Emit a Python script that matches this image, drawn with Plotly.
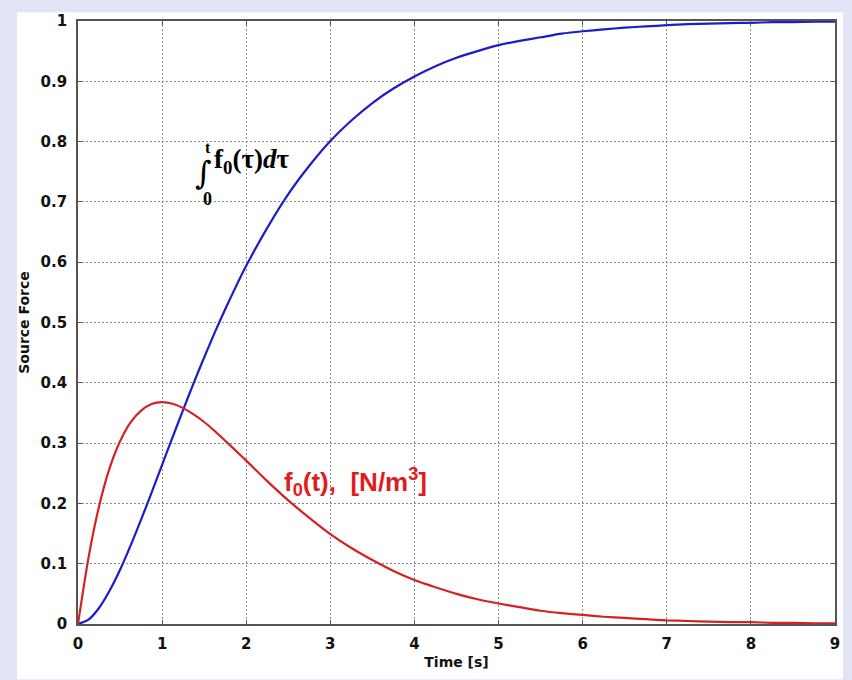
import plotly.graph_objects as go

# Time samples [s]
time_s = [0, 0.125, 0.25, 0.375, 0.5, 0.625, 0.75, 0.875, 1.0, 1.125, 1.25, 1.375,
          1.5, 1.625, 1.75, 1.875, 2.0, 2.25, 2.5, 2.75, 3.0, 3.25, 3.5, 3.75,
          4.0, 4.25, 4.5, 4.75, 5.0, 5.25, 5.5, 5.75, 6.0, 6.25, 6.5, 6.75,
          7.0, 7.25, 7.5, 7.75, 8.0, 8.25, 8.5, 8.75, 9.0]

# f0(t) [N/m^3]  (red)
force = [0, 0.110, 0.195, 0.258, 0.303, 0.3345, 0.354, 0.365, 0.368, 0.3653,
         0.358, 0.3476, 0.335, 0.320, 0.304, 0.2876, 0.271, 0.237, 0.205, 0.176,
         0.149, 0.126, 0.106, 0.088, 0.073, 0.061, 0.050, 0.041, 0.034, 0.028,
         0.022, 0.018, 0.015, 0.012, 0.010, 0.008, 0.006, 0.005, 0.004, 0.003,
         0.003, 0.002, 0.002, 0.001, 0.001]

# integral of f0 (blue)
integral = [0, 0.0072, 0.0265, 0.055, 0.090, 0.130, 0.173, 0.218, 0.264, 0.310,
            0.355, 0.3996, 0.442, 0.4831, 0.522, 0.559, 0.594, 0.657, 0.713, 0.760,
            0.801, 0.835, 0.864, 0.888, 0.908, 0.925, 0.939, 0.950, 0.960, 0.967,
            0.973, 0.979, 0.983, 0.986, 0.989, 0.991, 0.993, 0.9947, 0.9955, 0.9965,
            0.997, 0.998, 0.998, 0.999, 0.999]

x_ticks = [0, 1, 2, 3, 4, 5, 6, 7, 8, 9]
y_ticks = [0, 0.1, 0.2, 0.3, 0.4, 0.5, 0.6, 0.7, 0.8, 0.9, 1]

fig = go.Figure()
fig.add_trace(go.Scatter(x=time_s, y=integral, mode="lines",
                         line=dict(color="#1c1cc8", width=2.2, shape="spline", smoothing=0.6),
                         showlegend=False))
fig.add_trace(go.Scatter(x=time_s, y=force, mode="lines",
                         line=dict(color="#d42222", width=2.2, shape="spline", smoothing=0.6),
                         showlegend=False))

W, H = 852, 680
L, R, T, B = 78, 16, 14, 54
pw, ph = W - L - R, H - T - B

def px_x(p):
    return (p - L) / pw

def px_y(p):
    return (H - B - p) / ph

fig.add_shape(type="rect", xref="paper", yref="paper",
              x0=px_x(17), x1=px_x(844), y0=px_y(682), y1=px_y(5),
              fillcolor="white", line=dict(width=0), layer="below")

axis_font = dict(family="DejaVu Sans", size=15, color="#111111", weight="bold")
common = dict(ticks="inside", ticklen=4, tickcolor="#555555", showline=True,
              linecolor="#555555", linewidth=1.8, mirror="ticks", showgrid=True,
              gridcolor="#8a8a8a", griddash="1.5px,2.5px", gridwidth=1.2, zeroline=False,
              tickfont=axis_font)
fig.update_xaxes(range=[0, 9], tickvals=x_ticks, ticklabelstandoff=5,
                 title=dict(text="<b>Time [s]</b>",
                            font=dict(family="DejaVu Sans", size=14, color="#111111"),
                            standoff=5), **common)
fig.update_yaxes(range=[0, 1], tickvals=y_ticks, ticklabelstandoff=6,
                 title=dict(text="<b>Source Force</b>",
                            font=dict(family="DejaVu Sans", size=14, color="#111111"),
                            standoff=8), **common)

serif = "Liberation Serif"
fig.add_annotation(x=px_x(204), y=px_y(168), xref="paper", yref="paper",
                   text="∫", showarrow=False, xanchor="center", yanchor="middle",
                   font=dict(family="DejaVu Serif", size=32, color="black"))
fig.add_annotation(x=px_x(208), y=px_y(142), xref="paper", yref="paper",
                   text="<b>t</b>", showarrow=False, xanchor="center", yanchor="middle",
                   font=dict(family=serif, size=16, color="black"))
fig.add_annotation(x=px_x(208), y=px_y(195), xref="paper", yref="paper",
                   text="<b>0</b>", showarrow=False, xanchor="center", yanchor="middle",
                   font=dict(family=serif, size=18, color="black"))
fig.add_annotation(x=px_x(212), y=px_y(156), xref="paper", yref="paper",
                   text="<b>f<sub>0</sub>(τ)<i>d</i>τ</b>", showarrow=False,
                   xanchor="left", yanchor="middle",
                   font=dict(family=serif, size=27, color="black"))
fig.add_annotation(x=px_x(282), y=px_y(482), xref="paper", yref="paper",
                   text="<b>f<sub>0</sub>(t),  [N/m<sup>3</sup>]</b>", showarrow=False,
                   xanchor="left", yanchor="middle",
                   font=dict(family="Liberation Sans", size=26, color="#dd1e1e"))

fig.update_layout(width=W, height=H, margin=dict(l=L, r=R, t=T, b=B),
                  paper_bgcolor="#e1e4f4", plot_bgcolor="white")

fig.write_html("out.html", config={"displayModeBar": False},
               post_script="document.body.style.margin='0px';")
